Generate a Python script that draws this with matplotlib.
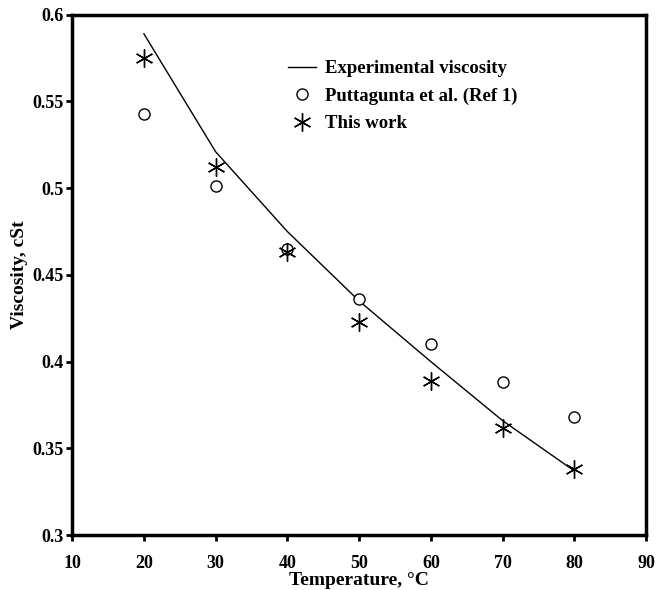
import matplotlib
matplotlib.use("Agg")
import matplotlib.pyplot as plt

plt.rcParams['font.family'] = ['Liberation Serif', 'DejaVu Serif']
plt.rcParams['font.weight'] = 'bold'

temps = [20, 30, 40, 50, 60, 70, 80]
experimental = [0.589, 0.521, 0.475, 0.435, 0.400, 0.366, 0.337]
puttagunta = [0.543, 0.501, 0.465, 0.436, 0.410, 0.388, 0.368]
this_work = [0.575, 0.512, 0.463, 0.423, 0.389, 0.362, 0.338]

x_ticks = [10, 20, 30, 40, 50, 60, 70, 80, 90]
y_ticks = [0.3, 0.35, 0.4, 0.45, 0.5, 0.55, 0.6]
y_labels = ['0.3', '0.35', '0.4', '0.45', '0.5', '0.55', '0.6']

fig = plt.figure(figsize=(6.62, 5.9), dpi=100)
ax = fig.add_axes([0.109, 0.093, 0.867, 0.882])

ax.plot(temps, experimental, color='black', linewidth=1.0, label='Experimental viscosity')
ax.plot(temps, puttagunta, linestyle='none', marker='o', markersize=8,
        markerfacecolor='white', markeredgecolor='black', markeredgewidth=1.0,
        label='Puttagunta et al. (Ref 1)')
ax.plot(temps, this_work, linestyle='none', marker=(6, 2, 0), markersize=13,
        markeredgecolor='black', markeredgewidth=1.0, color='black',
        label='This work')

ax.set_xlim(10, 90)
ax.set_ylim(0.3, 0.6)
ax.set_xticks(x_ticks)
ax.set_yticks(y_ticks)
ax.set_yticklabels(y_labels)

for side in ['left', 'right', 'top', 'bottom']:
    ax.spines[side].set_linewidth(2.5)

ax.tick_params(direction='out', length=4, width=2, labelsize=13, pad=10)
ax.tick_params(axis='y', pad=2)
for lbl in ax.get_xticklabels() + ax.get_yticklabels():
    lbl.set_fontweight('bold')

ax.set_xlabel('Temperature, °C', fontsize=14, fontweight='bold', labelpad=0)
ax.set_ylabel('Viscosity, cSt', fontsize=14, fontweight='bold', labelpad=3)

leg = ax.legend(loc='upper left', bbox_to_anchor=(0.347, 0.945), frameon=False,
                handlelength=1.5, handletextpad=0.45, labelspacing=0.55,
                prop={'weight': 'bold', 'size': 13.5})

fig.savefig('out.png', dpi=100)
